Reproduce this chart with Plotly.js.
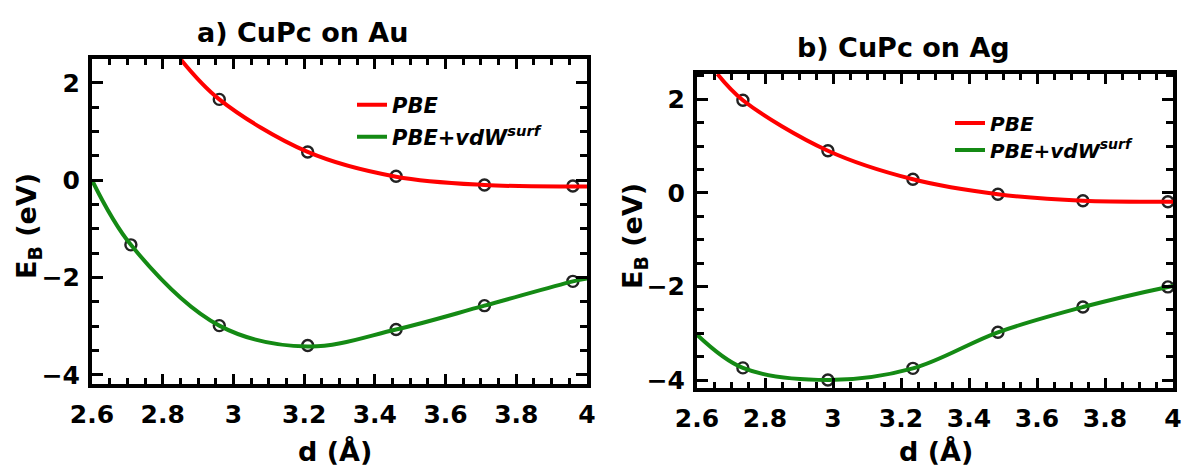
<!DOCTYPE html>
<html>
<head>
<meta charset="utf-8">
<script src="https://cdn.plot.ly/plotly-3.0.1.min.js"></script>
<style>html,body{margin:0;padding:0;background:#fff;}#chart{width:1182px;height:468px;}</style>
</head>
<body>
<div id="chart"></div>
<script>
// ---- Data ----
// Panel a) CuPc on Au
const dA_pbe = [2.96, 3.21, 3.46, 3.71, 3.96];
const ebA_pbe = [1.66, 0.58, 0.08, -0.10, -0.12];
const dA_vdw = [2.71, 2.96, 3.21, 3.46, 3.71, 3.96];
const ebA_vdw = [-1.33, -2.99, -3.40, -3.07, -2.58, -2.08];
// fitted curves (as drawn in the reference)
const fitA_pbe_d = [2.85, 2.96, 3.21, 3.46, 3.71, 3.96, 4.0];
const fitA_pbe_e = [2.49, 1.66, 0.58, 0.07, -0.10, -0.13, -0.13];
const fitA_vdw_d = [2.6, 2.71, 2.96, 3.21, 3.46, 3.71, 3.96, 4.0];
const fitA_vdw_e = [0.0, -1.33, -2.99, -3.42, -3.07, -2.58, -2.08, -2.02];

// Panel b) CuPc on Ag
const dB = [2.735, 2.985, 3.235, 3.485, 3.735, 3.985];
const ebB_pbe = [1.98, 0.90, 0.29, -0.03, -0.17, -0.19];
const ebB_vdw = [-3.74, -4.00, -3.75, -2.98, -2.44, -2.01];
const fitB_pbe_d = [2.66, 2.735, 2.985, 3.235, 3.485, 3.735, 3.985, 4.0];
const fitB_pbe_e = [2.54, 1.98, 0.90, 0.29, -0.03, -0.17, -0.19, -0.19];
const fitB_vdw_d = [2.6, 2.735, 2.985, 3.235, 3.485, 3.735, 3.985, 4.0];
const fitB_vdw_e = [-3.03, -3.74, -4.00, -3.75, -2.98, -2.44, -2.01, -1.99];

const seriesNames = ['PBE', 'PBE+vdW<sup>surf</sup>'];
const titles = ['a) CuPc on Au', 'b) CuPc on Ag'];
const xTitle = 'd (Å)';
const yTitle = 'E<sub>B</sub> (eV)';

const RED = '#ff0000', GREEN = '#148a14';
const FONT = 'DejaVu Sans, sans-serif';

function markers(x, y, xa, ya) {
  return {x: x, y: y, xaxis: xa, yaxis: ya, type: 'scatter', mode: 'markers', showlegend: false,
    marker: {symbol: 'circle-open', size: 11, color: '#222', line: {width: 2.4, color: '#222'}}, hoverinfo: 'skip'};
}
function curve(x, y, xa, ya, color, name, legend) {
  return {x: x, y: y, xaxis: xa, yaxis: ya, type: 'scatter', mode: 'lines', name: name,
    legend: legend, showlegend: true,
    line: {color: color, width: 4, shape: 'spline', smoothing: 1}};
}

const traces = [
  markers(dA_pbe, ebA_pbe, 'x', 'y'),
  markers(dA_vdw, ebA_vdw, 'x', 'y'),
  curve(fitA_pbe_d, fitA_pbe_e, 'x', 'y', RED, seriesNames[0], 'legend'),
  curve(fitA_vdw_d, fitA_vdw_e, 'x', 'y', GREEN, seriesNames[1], 'legend2'),
  markers(dB, ebB_pbe, 'x2', 'y2'),
  markers(dB, ebB_vdw, 'x2', 'y2'),
  curve(fitB_pbe_d, fitB_pbe_e, 'x2', 'y2', RED, seriesNames[0], 'legend3'),
  curve(fitB_vdw_d, fitB_vdw_e, 'x2', 'y2', GREEN, seriesNames[1], 'legend4')
];

const W = 1182, H = 468;
const px = v => v / W, py = v => 1 - v / H;

function xax(domain, anchor) {
  return {domain: domain, anchor: anchor, range: [2.6, 4], dtick: 0.2, tick0: 2.6,
    showline: true, linewidth: 4, linecolor: '#000', mirror: 'allticks',
    ticks: 'inside', ticklen: 10, tickwidth: 3, tickcolor: '#000',
    minor: {dtick: 0.05, ticks: 'inside', ticklen: 6, tickwidth: 3, tickcolor: '#000', showgrid: false},
    showgrid: false, zeroline: false, fixedrange: true,
    tickfont: {family: FONT, size: 25, color: '#000', weight: 'bold'}, ticklabelstandoff: 5};
}
function yax(domain, anchor, range) {
  return {domain: domain, anchor: anchor, range: range, dtick: 2, tick0: 0,
    showline: true, linewidth: 4, linecolor: '#000', mirror: 'allticks',
    ticks: 'inside', ticklen: 11, tickwidth: 3, tickcolor: '#000',
    minor: {dtick: 0.5, ticks: 'inside', ticklen: 7, tickwidth: 3, tickcolor: '#000', showgrid: false},
    showgrid: false, zeroline: false, fixedrange: true,
    tickfont: {family: FONT, size: 25, color: '#000', weight: 'bold'}, ticklabelstandoff: 3};
}
function leg(x, y, size) {
  return {x: px(x), y: py(y), xanchor: 'left', yanchor: 'middle', bgcolor: 'rgba(0,0,0,0)',
    font: {family: FONT, size: size, color: '#000', weight: 'bold', style: 'italic'}};
}

const titleFont = {family: FONT, size: 27, color: '#000', weight: 'bold'};
const axFont = {family: FONT, size: 27, color: '#000', weight: 'bold'};
const layout = {
  width: W, height: H, margin: {l: 0, r: 0, t: 0, b: 0},
  paper_bgcolor: '#fff', plot_bgcolor: '#fff',
  xaxis: xax([px(92), px(587)], 'y'),
  yaxis: yax([py(384), py(59)], 'x', [-4.19, 2.49]),
  xaxis2: xax([px(697), px(1173)], 'y2'),
  yaxis2: yax([py(388), py(74)], 'x2', [-4.17, 2.54]),
  legend: leg(352, 105, 21),
  legend2: leg(352, 137, 21),
  legend3: leg(950, 123, 20),
  legend4: leg(950, 150, 20),
  annotations: [
    {text: titles[0], xref: 'paper', yref: 'paper', x: px(302), y: py(33), showarrow: false, xanchor: 'center', yanchor: 'middle', font: titleFont},
    {text: titles[1], xref: 'paper', yref: 'paper', x: px(903), y: py(48), showarrow: false, xanchor: 'center', yanchor: 'middle', font: titleFont},
    {text: yTitle, xref: 'paper', yref: 'paper', x: px(28), y: py(226), showarrow: false, textangle: -90, xanchor: 'center', yanchor: 'middle', font: axFont},
    {text: yTitle, xref: 'paper', yref: 'paper', x: px(634), y: py(236), showarrow: false, textangle: -90, xanchor: 'center', yanchor: 'middle', font: axFont},
    {text: xTitle, xref: 'paper', yref: 'paper', x: px(335), y: py(451), showarrow: false, xanchor: 'center', yanchor: 'middle', font: axFont},
    {text: xTitle, xref: 'paper', yref: 'paper', x: px(936), y: py(451), showarrow: false, xanchor: 'center', yanchor: 'middle', font: axFont}
  ]
};

Plotly.newPlot('chart', traces, layout, {displayModeBar: false, staticPlot: true});
</script>
</body>
</html>
